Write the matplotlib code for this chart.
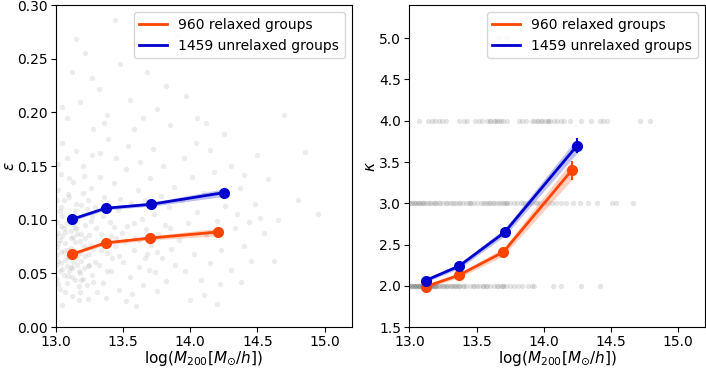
import numpy as np
import matplotlib
matplotlib.use("Agg")
import matplotlib.pyplot as plt

# binned medians (x = log M200)
x_rel = [13.12, 13.37, 13.70, 14.21]
x_unrel = [13.12, 13.37, 13.71, 14.25]

eps_rel = [0.068, 0.0785, 0.083, 0.0887]
eps_rel_err = [0.0015, 0.0015, 0.0018, 0.0035]
eps_unrel = [0.1005, 0.1108, 0.1145, 0.1253]
eps_unrel_err = [0.0015, 0.0015, 0.0018, 0.0035]

kap_rel = [1.99, 2.13, 2.41, 3.40]
kap_rel_err = [0.02, 0.03, 0.045, 0.115]
kap_unrel = [2.065, 2.24, 2.65, 3.70]
kap_unrel_err = [0.02, 0.03, 0.045, 0.09]

# background groups, epsilon panel (a rough sample of the cloud)
cloud_x = [
    13.01, 13.02, 13.03, 13.01, 13.04, 13.02, 13.05, 13.06, 13.03, 13.07, 13.05, 13.08, 13.06, 13.09,
    13.04, 13.10, 13.11, 13.08, 13.12, 13.10, 13.13, 13.11, 13.14, 13.12, 13.15, 13.13, 13.16, 13.14,
    13.17, 13.15, 13.18, 13.16, 13.19, 13.17, 13.20, 13.18, 13.21, 13.19, 13.22, 13.20, 13.23, 13.21,
    13.24, 13.22, 13.25, 13.23, 13.26, 13.24, 13.27, 13.25, 13.28, 13.26, 13.29, 13.27, 13.30, 13.28,
    13.02, 13.05, 13.08, 13.01, 13.03, 13.06, 13.09, 13.07, 13.12, 13.14, 13.16, 13.19, 13.11, 13.02,
    13.04, 13.09, 13.13, 13.18, 13.22, 13.26, 13.29, 13.07, 13.17, 13.24, 13.01, 13.10, 13.20, 13.15,
    13.05, 13.27, 13.00, 13.01, 13.03, 13.02, 13.04, 13.06, 13.08, 13.05, 13.10, 13.07, 13.12, 13.15,
    13.18, 13.21, 13.09, 13.14, 13.00, 13.02, 13.04, 13.11, 13.16, 13.25, 13.19, 13.23,
    13.32, 13.34, 13.35, 13.36, 13.38, 13.40, 13.41, 13.43, 13.44, 13.46, 13.47, 13.49, 13.50, 13.52,
    13.53, 13.55, 13.56, 13.58, 13.59, 13.61, 13.62, 13.64, 13.65, 13.67, 13.68, 13.70, 13.71, 13.73,
    13.74, 13.76, 13.78, 13.79, 13.81, 13.82, 13.84, 13.86, 13.88, 13.89, 13.33, 13.39, 13.45, 13.54,
    13.63, 13.72, 13.31, 13.37, 13.42, 13.48, 13.57, 13.66, 13.75, 13.80, 13.85, 13.60, 13.52, 13.35,
    13.45, 13.66, 13.75, 13.34, 13.38, 13.43, 13.51, 13.58, 13.62, 13.69, 13.33, 13.41, 13.47,
    13.92, 13.94, 13.96, 13.98, 14.01, 14.03, 14.05, 14.08, 14.10, 14.12, 14.15, 14.18, 14.20, 14.23,
    14.26, 14.30, 14.33, 14.37, 14.40, 14.44, 14.48, 14.00, 14.10, 14.22, 14.30, 14.35, 14.45, 14.40,
    14.15, 14.04, 13.95,
    13.05, 13.08, 13.12, 13.15, 13.18, 13.22, 13.27, 13.32, 13.38, 13.44, 13.48, 13.55, 13.60, 13.68,
    13.75, 13.82, 13.90, 13.97, 14.05, 13.28, 13.36, 13.58, 13.65, 13.85, 14.12, 14.25, 14.58, 14.62,
    14.55, 14.70, 14.85, 14.95, 14.80, 14.65, 14.52, 14.38, 14.20, 14.50,
]
cloud_y = [
    0.045, 0.062, 0.081, 0.098, 0.112, 0.128, 0.054, 0.071, 0.036, 0.089, 0.104, 0.041, 0.118, 0.066,
    0.143, 0.052, 0.083, 0.097, 0.029, 0.121, 0.061, 0.074, 0.108, 0.047, 0.091, 0.135, 0.058, 0.079,
    0.038, 0.115, 0.069, 0.101, 0.087, 0.052, 0.125, 0.033, 0.076, 0.062, 0.095, 0.045, 0.110, 0.141,
    0.057, 0.083, 0.068, 0.039, 0.099, 0.118, 0.049, 0.086, 0.073, 0.130, 0.061, 0.104, 0.092, 0.042,
    0.152, 0.021, 0.158, 0.075, 0.108, 0.092, 0.048, 0.063, 0.096, 0.044, 0.070, 0.114, 0.056, 0.088,
    0.070, 0.124, 0.084, 0.050, 0.066, 0.077, 0.112, 0.033, 0.025, 0.026, 0.118, 0.139, 0.150, 0.164,
    0.172, 0.160, 0.058, 0.067, 0.052, 0.078, 0.060, 0.049, 0.057, 0.085, 0.065, 0.078, 0.055, 0.064,
    0.080, 0.055, 0.072, 0.093, 0.085, 0.040, 0.094, 0.090, 0.087, 0.058, 0.044, 0.074,
    0.058, 0.087, 0.041, 0.121, 0.069, 0.098, 0.052, 0.134, 0.076, 0.109, 0.035, 0.088, 0.061, 0.147,
    0.094, 0.047, 0.116, 0.072, 0.083, 0.128, 0.056, 0.101, 0.039, 0.091, 0.068, 0.139, 0.077, 0.105,
    0.051, 0.087, 0.122, 0.064, 0.095, 0.043, 0.112, 0.073, 0.131, 0.058, 0.162, 0.175, 0.158, 0.169,
    0.154, 0.166, 0.033, 0.027, 0.064, 0.119, 0.031, 0.118, 0.034, 0.150, 0.092, 0.020, 0.024, 0.104,
    0.083, 0.064, 0.070, 0.072, 0.052, 0.093, 0.079, 0.097, 0.081, 0.053, 0.140, 0.085, 0.066,
    0.081, 0.118, 0.052, 0.097, 0.140, 0.068, 0.107, 0.044, 0.125, 0.086, 0.060, 0.145, 0.099, 0.072,
    0.113, 0.053, 0.092, 0.130, 0.076, 0.098, 0.115, 0.025, 0.030, 0.040, 0.150, 0.105, 0.062, 0.142,
    0.165, 0.172, 0.158,
    0.205, 0.195, 0.238, 0.268, 0.210, 0.255, 0.232, 0.222, 0.198, 0.286, 0.245, 0.212, 0.265, 0.238,
    0.203, 0.225, 0.272, 0.215, 0.195, 0.185, 0.190, 0.185, 0.195, 0.188, 0.190, 0.180, 0.138, 0.062,
    0.088, 0.198, 0.163, 0.105, 0.118, 0.100, 0.102, 0.042, 0.022, 0.160,
]

# background groups, kappa panel (kappa is an integer)
kap2_x = [13.00, 13.01, 13.02, 13.03, 13.04, 13.05, 13.06, 13.07, 13.08, 13.09, 13.10, 13.11, 13.12,
          13.13, 13.14, 13.15, 13.16, 13.17, 13.18, 13.19, 13.20, 13.22, 13.23, 13.25, 13.26, 13.28,
          13.30, 13.31, 13.33, 13.35, 13.37, 13.38, 13.40, 13.42, 13.45, 13.47, 13.50, 13.52, 13.55,
          13.57, 13.60, 13.63, 13.66, 13.68, 13.70, 13.72, 13.75, 13.78, 13.81, 13.84, 13.88, 13.91,
          13.93, 14.07, 14.13, 14.28, 14.42, 13.00, 13.02, 13.04, 13.06, 13.08, 13.10, 13.12, 13.14,
          13.16, 13.18, 13.20, 13.24, 13.28, 13.32, 13.36, 13.55, 13.70, 13.01, 13.03, 13.05, 13.07,
          13.09, 13.11, 13.13, 13.15, 13.17, 13.19, 13.21, 13.27, 13.34, 13.41, 13.48, 13.58, 13.65]
kap3_x = [13.00, 13.02, 13.04, 13.05, 13.07, 13.09, 13.10, 13.12, 13.14, 13.16, 13.18, 13.20, 13.23,
          13.25, 13.27, 13.30, 13.32, 13.35, 13.37, 13.40, 13.42, 13.45, 13.48, 13.50, 13.53, 13.56,
          13.58, 13.60, 13.62, 13.65, 13.67, 13.70, 13.72, 13.75, 13.78, 13.80, 13.83, 13.86, 13.88,
          13.91, 13.94, 13.97, 14.00, 14.03, 14.06, 14.09, 14.13, 14.17, 14.22, 14.27, 14.33, 14.40,
          14.51, 14.54, 14.67, 13.03, 13.08, 13.15, 13.22, 13.28, 13.38, 13.46, 13.55, 13.63, 13.68,
          13.73, 13.85, 13.95, 13.01, 13.06, 13.11, 13.19, 13.33, 13.44, 13.59, 13.71]
kap4_x = [13.07, 13.14, 13.17, 13.19, 13.22, 13.24, 13.27, 13.37, 13.41, 13.43, 13.49, 13.52, 13.54,
          13.58, 13.60, 13.63, 13.65, 13.68, 13.70, 13.73, 13.82, 13.84, 13.87, 13.91, 13.93, 13.96,
          13.98, 14.01, 14.03, 14.05, 14.08, 14.10, 14.13, 14.15, 14.20, 14.28, 14.35, 14.42, 14.44,
          14.47, 14.72, 14.79, 13.60, 13.64, 13.67, 13.95, 13.99, 14.03]
kap5_x = [13.66, 13.73]

red = "orangered"
blue = "mediumblue"
dot = dict(color="gray", alpha=0.15, s=15, linewidths=0)

fig = plt.figure(figsize=(7.06, 3.68), dpi=100)
ax1 = fig.add_axes([0.079, 0.111, 0.419, 0.875])
ax2 = fig.add_axes([0.580, 0.111, 0.418, 0.875])

# epsilon panel
ax1.scatter(cloud_x, cloud_y, **dot)
for xs, ys, es, c, lab in [(x_rel, eps_rel, eps_rel_err, red, "960 relaxed groups"),
                           (x_unrel, eps_unrel, eps_unrel_err, blue, "1459 unrelaxed groups")]:
    ys, es = np.array(ys), np.array(es)
    ax1.fill_between(xs, ys - es, ys + es, color=c, alpha=0.25, lw=0)
    ax1.plot(xs, ys, color=c, lw=2, label=lab)
    ax1.errorbar(xs, ys, yerr=es, fmt="o", color=c, ms=7, lw=1.5)
ax1.set_xlim(13.0, 15.2)
ax1.set_ylim(0.0, 0.30)
ax1.set_xticks([13.0, 13.5, 14.0, 14.5, 15.0])
ax1.set_ylabel(r"$\epsilon$", fontsize=11, labelpad=0)
ax1.set_xlabel(r"$\log(M_{200}[M_{\odot}/h])$", fontsize=11, labelpad=0)
ax1.legend(loc="upper right")

# kappa panel
kdot = dict(dot, alpha=0.2)
for lvl, xs in [(2, kap2_x), (3, kap3_x), (4, kap4_x), (5, kap5_x)]:
    ax2.scatter(xs, np.full(len(xs), float(lvl)), **kdot)
for xs, ys, es, c, lab in [(x_rel, kap_rel, kap_rel_err, red, "960 relaxed groups"),
                           (x_unrel, kap_unrel, kap_unrel_err, blue, "1459 unrelaxed groups")]:
    ys, es = np.array(ys), np.array(es)
    ax2.fill_between(xs, ys - es, ys + es, color=c, alpha=0.25, lw=0)
    ax2.plot(xs, ys, color=c, lw=2, label=lab)
    ax2.errorbar(xs, ys, yerr=es, fmt="o", color=c, ms=7, lw=1.5)
ax2.set_xlim(13.0, 15.2)
ax2.set_ylim(1.5, 5.4)
ax2.set_xticks([13.0, 13.5, 14.0, 14.5, 15.0])
ax2.set_yticks([1.5, 2.0, 2.5, 3.0, 3.5, 4.0, 4.5, 5.0])
ax2.set_ylabel(r"$\kappa$", fontsize=11, labelpad=1)
ax2.set_xlabel(r"$\log(M_{200}[M_{\odot}/h])$", fontsize=11, labelpad=0)
ax2.legend(loc="upper right")

for ax in (ax1, ax2):
    ax.tick_params(labelsize=10, pad=2.5)

fig.savefig("out.png", dpi=100)
